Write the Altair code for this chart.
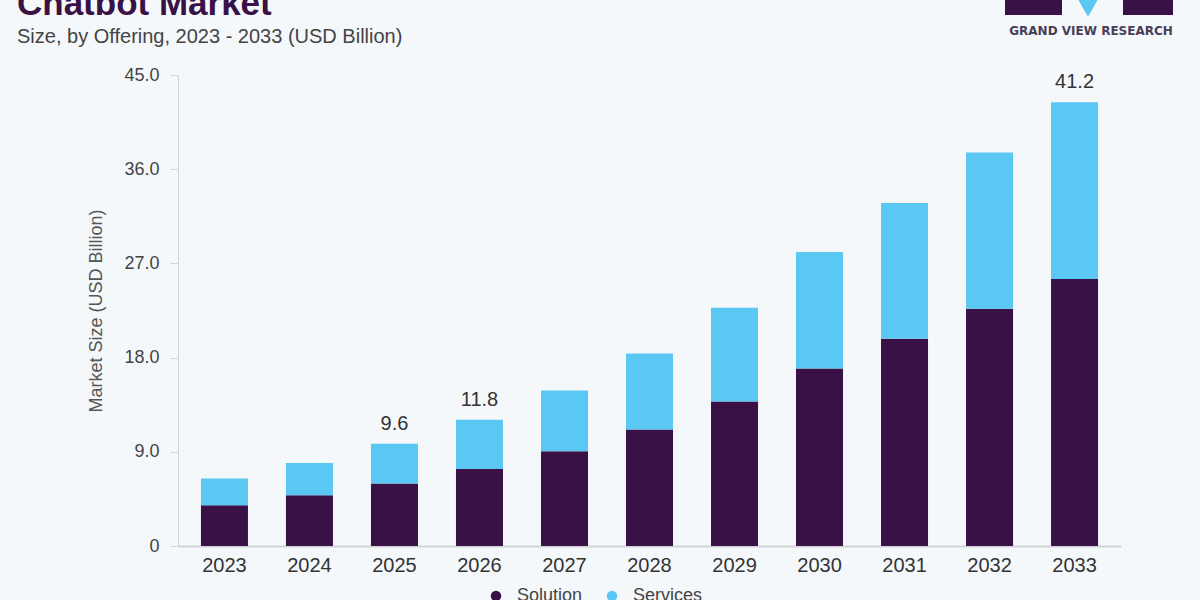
import altair as alt
import pandas as pd

years = ["2023", "2024", "2025", "2026", "2027", "2028", "2029", "2030", "2031", "2032", "2033"]
solution = [3.9, 4.86, 5.97, 7.36, 9.05, 11.14, 13.8, 16.95, 19.8, 22.67, 25.5]
services = [2.55, 3.07, 3.81, 4.71, 5.81, 7.24, 8.96, 11.15, 12.96, 14.93, 16.9]
label_years = ["2025", "2026", "2033"]
label_texts = ["9.6", "11.8", "41.2"]
offerings = ["Solution", "Services"]
colors = ["#3a1146", "#5bc8f4"]

rows = []
for y, a, b in zip(years, solution, services):
    rows.append({"Year": y, "Offering": "Solution", "Value": a, "ord": 0})
    rows.append({"Year": y, "Offering": "Services", "Value": b, "ord": 1})
df = pd.DataFrame(rows)

totals = {y: a + b for y, a, b in zip(years, solution, services)}
lab = pd.DataFrame({"Year": label_years, "Label": label_texts,
                    "Total": [totals[y] for y in label_years]})

x_enc = alt.X("Year:N", sort=years, title=None,
              scale=alt.Scale(paddingInner=0.447, paddingOuter=0.27),
              axis=alt.Axis(labelFontSize=20, labelColor="#333", labelFont="Liberation Sans",
                            ticks=False, domainColor="#cfd3d8", domainWidth=2,
                            labelPadding=9, labelAngle=0))

bars = alt.Chart(df).mark_bar().encode(
    x=x_enc,
    y=alt.Y("Value:Q", stack="zero", title="Market Size (USD Billion)",
            scale=alt.Scale(domain=[0, 45], nice=False),
            axis=alt.Axis(values=[0, 9, 18, 27, 36, 45],
                          labelExpr="datum.value == 0 ? '0' : format(datum.value, '.1f')",
                          labelFontSize=18, labelColor="#444", labelFont="Liberation Sans",
                          tickSize=8, tickColor="#cfd3d8", domainColor="#cfd3d8",
                          labelPadding=11, grid=False,
                          titleFontSize=18, titleFontWeight="normal", titleColor="#555",
                          titleFont="Liberation Sans", titlePadding=18)),
    color=alt.Color("Offering:N", scale=alt.Scale(domain=offerings, range=colors),
                    legend=alt.Legend(title=None, orient="none", legendX=309, legendY=512,
                                      direction="horizontal", symbolType="circle",
                                      symbolSize=110, labelFontSize=18, labelColor="#444",
                                      labelFont="Liberation Sans", columnPadding=20,
                                      labelOffset=12)),
    order=alt.Order("ord:Q", sort="ascending"),
)

labels = alt.Chart(lab).mark_text(baseline="bottom", dy=-10, fontSize=20,
                                  color="#333", font="Liberation Sans").encode(
    x=alt.X("Year:N", sort=years),
    y=alt.Y("Total:Q"),
    text="Label:N",
)

one = pd.DataFrame({"a": [0]})

title = alt.Chart(one).mark_text(text="Chatbot Market", align="left", baseline="alphabetic",
                                 fontSize=35, fontWeight="bold", color="#3a1146",
                                 font="Liberation Sans").encode(
    x=alt.value(-161), y=alt.value(-60))
subtitle = alt.Chart(one).mark_text(text="Size, by Offering, 2023 - 2033 (USD Billion)",
                                    align="left", baseline="alphabetic", fontSize=20,
                                    color="#444", font="Liberation Sans").encode(
    x=alt.value(-161), y=alt.value(-32))

logo_l = alt.Chart(one).mark_rect(color="#3a1146").encode(
    x=alt.value(827), x2=alt.value(884), y=alt.value(-80), y2=alt.value(-60))
logo_r = alt.Chart(one).mark_rect(color="#3a1146").encode(
    x=alt.value(945), x2=alt.value(995), y=alt.value(-80), y2=alt.value(-60))
logo_m = alt.Chart(one).mark_point(shape="triangle-down", filled=True, color="#5bc8f4",
                                   size=500, opacity=1).encode(
    x=alt.value(910), y=alt.value(-68))
logo_t = alt.Chart(one).mark_text(text="GRAND VIEW RESEARCH", align="center",
                                  baseline="middle", fontSize=12, fontWeight="bold",
                                  color="#4a3d58", font="DejaVu Sans").encode(
    x=alt.value(913), y=alt.value(-44))

chart = alt.layer(bars, labels, title, subtitle, logo_l, logo_r, logo_m, logo_t).properties(
    width=943, height=471,
    autosize=alt.AutoSizeParams(type="none"),
    padding={"left": 178, "top": 75, "right": 79, "bottom": 54},
    background="#f4f8fb",
).configure_view(stroke=None)

chart.save("out.html", embed_options={"renderer": "svg", "actions": False})
